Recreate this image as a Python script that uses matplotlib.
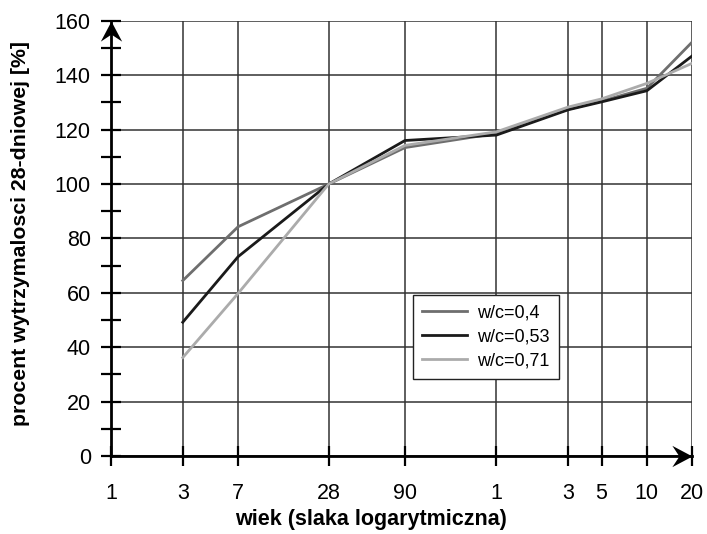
import numpy as np
import matplotlib
matplotlib.use('Agg')
import matplotlib.pyplot as plt
from matplotlib.path import Path
from matplotlib.ticker import FixedLocator, NullLocator, MultipleLocator

plt.rcParams['font.family'] = ['Liberation Sans', 'DejaVu Sans']

# age in days (log scale): 3d, 7d, 28d, 90d, 1y, 3y, 5y, 10y, 20y
days = [3, 7, 28, 90, 365, 1095, 1825, 3650, 7300]
wc_04 = [64.5, 84.3, 100, 113.4, 118.6, 127.5, 130.5, 135.2, 152.2]
wc_053 = [49.2, 73.3, 100, 116.0, 118.0, 127.3, 130.2, 134.3, 147.1]
wc_071 = [36.2, 59.8, 100, 114.2, 119.2, 128.3, 131.3, 137.0, 144.4]

tick_pos = [1, 3, 7, 28, 90, 365, 1095, 1825, 3650, 7300]
tick_lab = ['1', '3', '7', '28', '90', '1', '3', '5', '10', '20']

fig = plt.figure(figsize=(7.07, 5.34), dpi=100)
ax = fig.add_axes([0.157, 0.146, 0.822, 0.815])

ax.plot(days, wc_04, color='#6e6e6e', lw=2, label='w/c=0,4')
ax.plot(days, wc_053, color='#1a1a1a', lw=2, label='w/c=0,53')
ax.plot(days, wc_071, color='#ababab', lw=2, label='w/c=0,71')

ax.set_xscale('log')
ax.set_xlim(1, 7300)
ax.set_ylim(0, 160)
ax.xaxis.set_major_locator(FixedLocator(tick_pos))
ax.xaxis.set_minor_locator(NullLocator())
ax.set_xticklabels(tick_lab)
ax.yaxis.set_major_locator(MultipleLocator(20))
ax.yaxis.set_minor_locator(MultipleLocator(10))

ax.grid(True, which='major', color='#333333', lw=1.1)
ax.set_axisbelow(True)
for s in ['top', 'right']:
    ax.spines[s].set_visible(False)
for s in ['left', 'bottom']:
    ax.spines[s].set_linewidth(2)
    ax.spines[s].set_zorder(5)

ax.tick_params(axis='both', which='both', direction='inout', length=15, width=1.6,
               color='k', labelsize=15.5)
ax.tick_params(axis='x', pad=12)
ax.tick_params(axis='y', pad=7)

# arrow heads at the axis ends
up = Path([(0, 0), (-0.53, -1), (0, -0.65), (0.53, -1), (0, 0)])
right = Path([(0, 0), (-1, 0.53), (-0.65, 0), (-1, -0.53), (0, 0)])
ax.plot([1], [160], marker=up, ms=29, color='k', mew=0, clip_on=False, zorder=6)
ax.plot([7300], [0], marker=right, ms=29, color='k', mew=0, clip_on=False, zorder=6)

fig.text(371 / 707, 1 - 520 / 534, 'wiek (slaka logarytmiczna)', fontsize=15.5,
         fontweight='bold', ha='center', va='center')
fig.text(21 / 707, 1 - 234 / 534, 'procent wytrzymalosci 28-dniowej [%]', fontsize=15.3,
         fontweight='bold', ha='center', va='center', rotation=90)

leg = ax.legend(loc='upper left', bbox_to_anchor=(0.52, 0.37), borderaxespad=0,
                fontsize=13, fancybox=False, framealpha=1, edgecolor='#222222',
                handlelength=2.5, handletextpad=0.55, borderpad=0.5, labelspacing=0.4)
leg.get_frame().set_linewidth(1)

fig.savefig('out.png', dpi=100)
